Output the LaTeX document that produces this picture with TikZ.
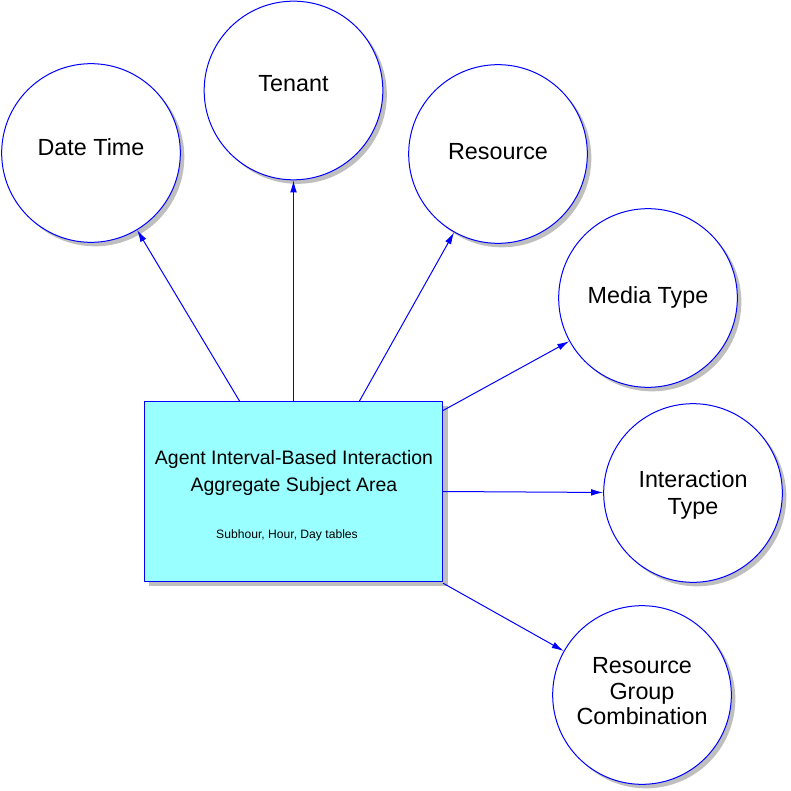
\documentclass[tikz,border=0pt]{standalone}
\usepackage{fontspec}
\setmainfont{Liberation Sans}
\usetikzlibrary{arrows.meta,shadows}

\tikzset{
  ent/.style={circle,draw=blue,line width=0.75pt,fill=white,minimum size=134pt,inner sep=0pt,
    align=center,font=\fontsize{17.5}{19}\selectfont,
    drop shadow={shadow xshift=3pt,shadow yshift=-3pt,fill=black!25,opacity=1}},
  subj/.style={rectangle,draw=blue,line width=0.75pt,fill=subjcyan,minimum width=224pt,minimum height=135pt,inner sep=0pt,
    drop shadow={shadow xshift=3.5pt,shadow yshift=-3.5pt,fill=black!25,opacity=1}},
  link/.style={->,draw=blue,line width=0.75pt}
}
\definecolor{subjcyan}{RGB}{153,255,255}

\begin{document}
\begin{tikzpicture}[line cap=round,line join=round,>={Latex[length=9pt,width=5pt]},x=0.75pt,y=-0.75pt]
\useasboundingbox (0,0) rectangle (790,791);
% dimension circles
\node[ent,text depth=9pt] (dt) at (91,153) {Date Time};
\node[ent,text depth=11pt] (tn) at (293.5,90.5) {Tenant};
\node[ent,text depth=4.5pt] (rs) at (498,154) {Resource};
\node[ent,text depth=4.5pt] (mt) at (648,298) {Media Type};
\node[ent,text depth=0pt,font=\fontsize{17.5}{20.25}\selectfont] (it) at (693,493) {Interaction\\Type};
\node[ent,text depth=6pt] (rg) at (642,695) {Resource\\Group\\Combination};
% subject area
\node[subj] (ab) at (293.5,491.5) {};
\node[align=center,font=\fontsize{14.6}{20.25}\selectfont] (abt) at (294,472.5) {Agent Interval-Based Interaction\\Aggregate Subject Area};
\node[font=\fontsize{9.1}{11}\selectfont] (abs) at (287,535) {Subhour, Hour, Day tables};
% links
\draw[link] ([xshift=-40.5pt]ab.north) -- (dt);
\draw[link] (ab.north) -- (tn);
\draw[link] ([xshift=49.5pt]ab.north) -- (rs);
\draw[link] ([yshift=-7pt]ab.north east) -- (mt);
\draw[link] (ab.east) -- (it);
\draw[link] ([yshift=-1pt]ab.south east) -- (rg);
\end{tikzpicture}
\end{document}
